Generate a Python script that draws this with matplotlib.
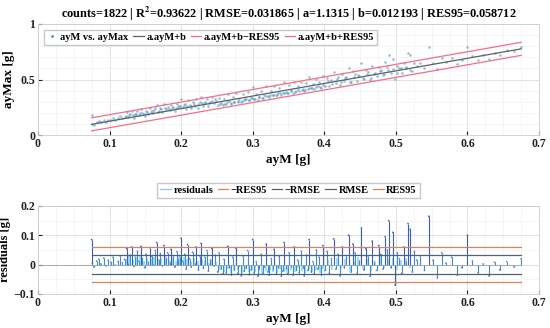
import numpy as np
import matplotlib
matplotlib.use("Agg")
import matplotlib.pyplot as plt
from matplotlib.lines import Line2D

# fit parameters shown in the title
n_counts = 1822
r2 = 0.93622
rmse = 0.031865
a = 1.1315
b = 0.012193
res95 = 0.058712

ayM = [0.075, 0.076, 0.078, 0.082, 0.085, 0.088, 0.092, 0.095, 0.098, 0.102, 0.105, 0.108, 0.112, 0.115, 0.118,
       0.121, 0.124, 0.126, 0.129, 0.131, 0.134, 0.136, 0.139, 0.141, 0.144, 0.146, 0.149, 0.151, 0.154, 0.156, 0.159,
       0.161, 0.164, 0.166, 0.169, 0.171, 0.174, 0.176, 0.179, 0.181, 0.184, 0.186, 0.189, 0.191, 0.194, 0.196, 0.198,
       0.200, 0.202, 0.205, 0.207, 0.209, 0.212, 0.214, 0.216, 0.219, 0.221, 0.224, 0.226, 0.228, 0.231, 0.233, 0.236,
       0.238, 0.241, 0.243, 0.246, 0.248,
       0.251, 0.253, 0.256, 0.258, 0.260, 0.263, 0.265, 0.267, 0.270, 0.272, 0.274, 0.277, 0.279, 0.281, 0.284, 0.286,
       0.288, 0.291, 0.293, 0.295, 0.298, 0.300, 0.302, 0.305, 0.307, 0.309, 0.312, 0.314, 0.316, 0.319, 0.321, 0.323,
       0.326, 0.328, 0.330, 0.333, 0.335, 0.337, 0.340, 0.342, 0.344, 0.347, 0.349, 0.351, 0.354, 0.356, 0.358, 0.361,
       0.363, 0.365, 0.368, 0.370, 0.372, 0.375, 0.377, 0.379, 0.382, 0.384, 0.386, 0.389, 0.391, 0.393, 0.396, 0.398,
       0.401, 0.404, 0.407, 0.410, 0.413, 0.416, 0.419, 0.422, 0.425, 0.428, 0.431, 0.434, 0.437, 0.440, 0.443, 0.446,
       0.449, 0.452, 0.455, 0.458, 0.461, 0.464, 0.467, 0.470, 0.473, 0.476, 0.479, 0.482, 0.485, 0.488, 0.490, 0.493,
       0.496, 0.499, 0.502, 0.505, 0.508, 0.511, 0.514, 0.517, 0.520, 0.523, 0.526, 0.529,
       0.534, 0.540, 0.546, 0.552, 0.558, 0.564, 0.570, 0.578, 0.585, 0.592, 0.600, 0.607, 0.615, 0.622, 0.630, 0.638,
       0.645, 0.655, 0.665, 0.675]

# residuals [g] for each ayM point
residuals = [0.085, 0.005, -0.008, 0.012, 0.018, 0.002, 0.022, -0.004, 0.015, 0.008, 0.025, -0.002, 0.011, 0.030, 0.006,
             0.018, 0.055, 0.004, 0.032, 0.060, -0.006, 0.025, 0.045, 0.012, 0.062, 0.020, -0.010, 0.035, 0.008, 0.058, 0.028,
             0.002, 0.048, 0.075, 0.015, 0.038, -0.004, 0.065, 0.022, 0.040, 0.010, 0.052, 0.030, -0.008, 0.044, 0.018, 0.026,
             0.090, 0.012, 0.035, -0.015, 0.068, 0.020, -0.008, 0.042, 0.005, 0.060, -0.018, 0.030, 0.072, -0.012, 0.025, 0.048,
             -0.022, 0.015, 0.055, -0.005, 0.032,
             -0.025, 0.040, -0.015, -0.032, 0.018, -0.028, 0.062, -0.010, -0.035, 0.025, -0.020, 0.055, -0.030, -0.005, -0.038, 0.030,
             -0.022, -0.012, 0.048, -0.034, -0.018, 0.085, -0.028, 0.010, -0.040, -0.015, 0.035, -0.030, -0.008, 0.070, -0.025, -0.036,
             0.020, -0.018, 0.052, -0.032, -0.010, 0.028, -0.040, -0.022, 0.075, -0.015, -0.030, 0.040, -0.008, -0.035, 0.060, -0.020,
             0.015, -0.028, 0.045, -0.012, -0.038, 0.032, -0.020, 0.085, -0.025, 0.010, -0.030, 0.050, -0.015, 0.025, -0.035, 0.065,
             -0.020, 0.045, -0.030, 0.020, 0.088, -0.015, 0.035, -0.038, 0.060, -0.010, 0.025, 0.100, -0.025, 0.070, 0.040, -0.030,
             0.012, 0.125, -0.018, 0.055, 0.030, -0.040, 0.080, 0.010, -0.020, 0.065, 0.035, -0.015, 0.095, 0.050, 0.150, -0.010,
             0.110, -0.070, 0.040, 0.020, -0.030, 0.060, 0.012, 0.140, 0.120, -0.025, 0.045, 0.015,
             0.030, -0.020, 0.165, 0.015, -0.045, 0.040, 0.005, 0.025, -0.035, -0.010, 0.100, 0.012, -0.028, 0.002, -0.038, 0.008,
             -0.018, 0.010, -0.008, 0.020]

# the dense core of small residuals (light stems in the band)
ayM_core = [0.1225, 0.1275, 0.1325, 0.1375, 0.1425, 0.1475, 0.1525, 0.1575, 0.1625, 0.1675, 0.1725, 0.1775, 0.1825,
            0.1875, 0.1925, 0.1975, 0.2035, 0.2085, 0.2135, 0.2185, 0.2235, 0.2285, 0.2335, 0.2385, 0.2435, 0.2485,
            0.2545, 0.2595, 0.2645, 0.2695, 0.2745, 0.2795, 0.2845, 0.2895, 0.2945, 0.2995, 0.3035, 0.3085, 0.3135,
            0.3185, 0.3235, 0.3285, 0.3335, 0.3385, 0.3435, 0.3485, 0.3535, 0.3585, 0.3635, 0.3685, 0.3735, 0.3785,
            0.3835, 0.3885, 0.3935, 0.3985, 0.4055, 0.4115, 0.4175, 0.4235, 0.4295, 0.4355, 0.4415, 0.4475, 0.4535,
            0.4595, 0.4655, 0.4715, 0.4775, 0.4835, 0.4895, 0.4955, 0.5015, 0.5075, 0.5135, 0.5195]
residuals_core = [0.020, 0.028, 0.015, 0.025, 0.030, 0.012, 0.022, 0.018, 0.026, 0.010, 0.024, 0.028, 0.016,
                  0.021, 0.013, 0.027, 0.025, 0.018, 0.008, 0.022, 0.012, 0.020, 0.015, 0.005, 0.018, 0.010,
                  -0.020, -0.026, -0.015, -0.028, -0.022, -0.018, -0.030, -0.012, -0.025, -0.020, -0.027, -0.016, -0.029,
                  -0.022, -0.018, -0.025, -0.030, -0.014, -0.024, -0.028, -0.019, -0.026, -0.012, -0.022, -0.029, -0.017,
                  -0.024, -0.020, -0.028, -0.015, 0.015, -0.020, 0.022, -0.012, 0.018, -0.025, 0.010, 0.025, -0.015,
                  0.020, -0.022, 0.012, 0.028, -0.010, 0.018, 0.024, -0.020, 0.015, 0.022, -0.012]

x = np.array(ayM)
r = np.array(residuals)
xc = np.array(ayM_core)
rc = np.array(residuals_core)
x_all = np.concatenate([x, xc])
ayMax_all = a * x_all + b + np.concatenate([r, rc])

plt.rcParams['font.family'] = ['Liberation Serif', 'DejaVu Serif']
plt.rcParams['font.weight'] = 'bold'
plt.rcParams['axes.labelweight'] = 'bold'
plt.rcParams['axes.titleweight'] = 'bold'
plt.rcParams['mathtext.fontset'] = 'stix'

fig = plt.figure(figsize=(5.5, 3.28), dpi=100)
ax1 = fig.add_axes([0.069, 0.588, 0.911, 0.339])
ax2 = fig.add_axes([0.069, 0.104, 0.911, 0.268])

for ax in (ax1, ax2):
    ax.set_xlim(0, 0.7)
    ax.set_xticks(np.arange(0, 0.71, 0.1))
    ax.set_xticklabels(['0', '0.1', '0.2', '0.3', '0.4', '0.5', '0.6', '0.7'])
    ax.set_xticks(np.arange(0, 0.71, 0.025), minor=True)
    ax.grid(True, which='major', color='#dddddd', lw=0.6)
    ax.grid(True, which='minor', color='#f2f2f2', lw=0.5)
    ax.tick_params(direction='in', length=3, labelsize=8.5, colors='#222222', pad=2)
    ax.tick_params(which='minor', length=0)
    for s in ax.spines.values():
        s.set_color('#cccccc')
        s.set_linewidth(0.6)
    ax.set_axisbelow(True)

xs = np.array([x.min(), x.max()])

# top: scatter + fit
ax1.scatter(x_all, ayMax_all, s=3.5, color='#4a98c8', alpha=0.6, lw=0)
ax1.plot(xs, a * xs + b, color='#606060', lw=0.9)
ax1.plot(xs, a * xs + b - res95, color='#ff6b80', lw=0.9)
ax1.plot(xs, a * xs + b + res95, color='#ff6b80', lw=0.9)
ax1.set_ylim(0, 1)
ax1.set_yticks([0, 0.5, 1])
ax1.set_yticklabels(['0', '0.5', '1'])
ax1.set_yticks(np.arange(0, 1.01, 0.1), minor=True)
ax1.set_xlabel('ayM [g]', fontsize=9.5, labelpad=3)
ax1.set_ylabel('ayMax [g]', fontsize=9.5, labelpad=4)
ax1.set_title('counts=%d | R$^{\\mathbf{2}}$=%.5f | RMSE=%.6f | a=%.4f | b=%.6f | RES95=%.6f'
              % (n_counts, r2, rmse, a, b, res95), fontsize=8.8, pad=4)

h1 = [Line2D([], [], color='#4a98c8', marker='.', ls='none', ms=2),
      Line2D([], [], color='#606060', lw=0.9),
      Line2D([], [], color='#ff6b80', lw=0.9),
      Line2D([], [], color='#ff6b80', lw=0.9)]
ax1.legend(h1, ['ayM vs. ayMax', 'a.ayM+b', 'a.ayM+b\u2212RES95', 'a.ayM+b+RES95'],
           loc='upper left', ncol=4, fontsize=7.5, frameon=True, fancybox=False, edgecolor='#bbbbbb',
           handlelength=1.0, handletextpad=0.25, columnspacing=0.45, borderpad=0.3,
           bbox_to_anchor=(0.002, 0.995))

# bottom: residual stems
cols = ['#3a5cc0' if abs(v) > 0.05 else '#3d8ad8' for v in r]
ax2.vlines(xc, 0, rc, colors='#9be0f4', lw=1.4)
ax2.vlines(x, 0, r, colors=cols, lw=0.8)
ax2.scatter(x, r, s=1.5, color=cols, lw=0)
ax2.plot([0, x.max()], [0, 0], color='#a0a0a0', lw=0.6)
ax2.plot(xs, [-res95, -res95], color='#d08860', lw=0.9)
ax2.plot(xs, [-rmse, -rmse], color='#55606e', lw=0.9)
ax2.plot(xs, [rmse, rmse], color='#55606e', lw=0.9)
ax2.plot(xs, [res95, res95], color='#d08860', lw=0.9)
ax2.set_ylim(-0.1, 0.2)
ax2.set_yticks([-0.1, 0, 0.1, 0.2])
ax2.set_yticklabels(['\u22120.1', '0', '0.1', '0.2'])
ax2.set_yticks(np.arange(-0.1, 0.201, 0.05), minor=True)
ax2.set_xlabel('ayM [g]', fontsize=9.5, labelpad=3)
ax2.set_ylabel('residuals [g]', fontsize=9, labelpad=2)

h2 = [Line2D([], [], color='#8fc8e8', lw=0.9),
      Line2D([], [], color='#d08860', lw=0.9),
      Line2D([], [], color='#55606e', lw=0.9),
      Line2D([], [], color='#55606e', lw=0.9),
      Line2D([], [], color='#d08860', lw=0.9)]
ax2.legend(h2, ['residuals', '\u2212RES95', '\u2212RMSE', 'RMSE', 'RES95'],
           loc='lower center', ncol=5, fontsize=7.5, frameon=True, fancybox=False, edgecolor='#bbbbbb',
           handlelength=1.0, handletextpad=0.25, columnspacing=0.45, borderpad=0.3,
           bbox_to_anchor=(0.5, 1.03))

fig.savefig('out.png', dpi=100)
